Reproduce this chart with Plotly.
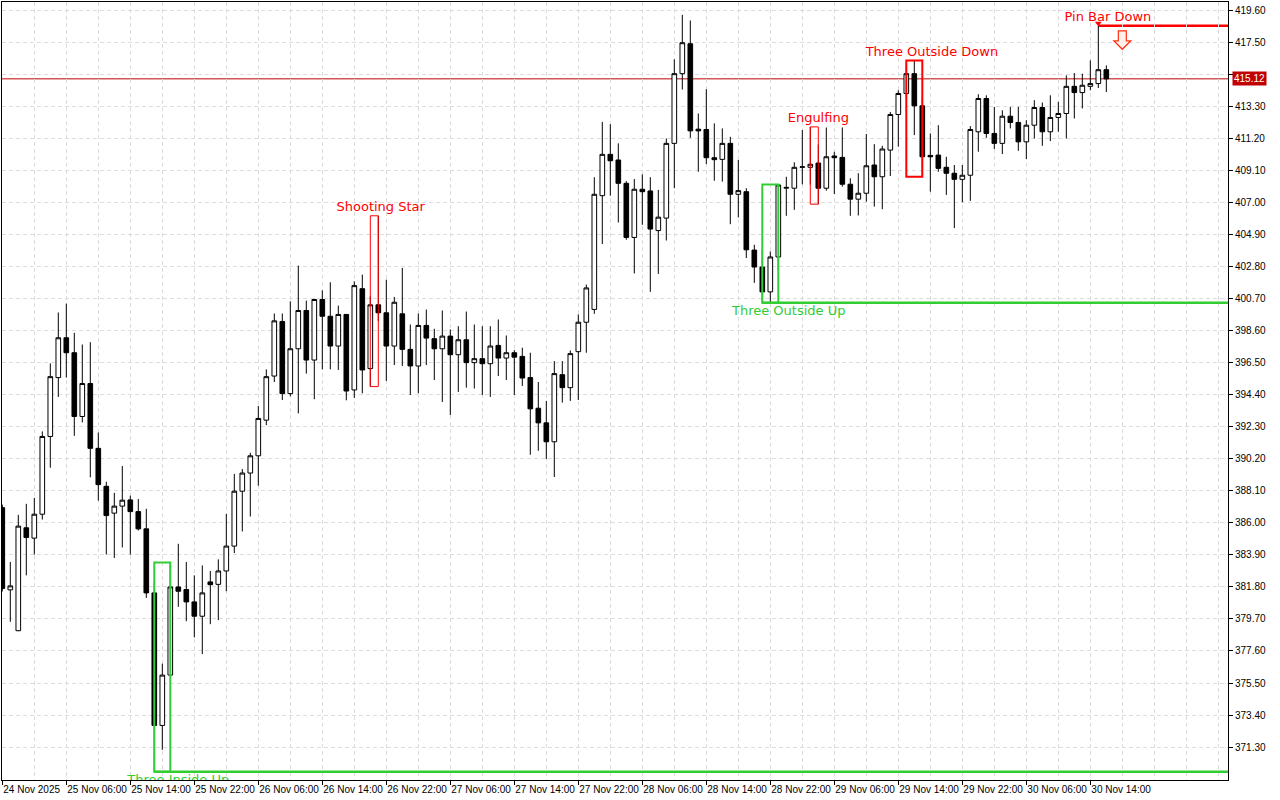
import plotly.graph_objects as go

# ---- data (hourly candles, index 0 = 24 Nov 2025 22:00) ----
opens = [387.0, 381.61, 378.93, 385.68, 385.0, 386.57, 391.67, 395.53, 398.14, 397.16,
         392.98, 395.14, 390.89, 388.4, 386.64, 387.1, 387.51, 386.74, 385.61, 381.41,
         372.72, 376.02, 381.8, 381.63, 380.82, 379.88, 382.13, 381.97, 382.85, 384.48,
         388.08, 389.27, 390.4, 392.74, 395.63, 399.21, 394.48, 397.42, 399.93, 396.68,
         400.65, 399.55, 397.6, 399.67, 394.72, 401.36, 396.12, 400.3, 399.78, 397.6,
         399.71, 397.38, 396.29, 398.95, 398.08, 397.42, 398.25, 397.03, 398.01, 396.51,
         396.77, 396.44, 397.64, 396.81, 397.16, 396.92, 395.53, 393.52, 392.56, 391.32,
         395.72, 394.87, 397.23, 399.16, 400.0, 407.46, 410.17, 409.8, 408.27, 404.72,
         407.88, 407.77, 405.17, 405.99, 410.89, 415.46, 417.42, 411.82, 411.8, 409.95,
         409.84, 410.89, 407.55, 407.72, 403.89, 402.78, 401.15, 403.44, 407.95, 407.95,
         409.32, 409.32, 409.6, 407.95, 410.06, 409.97, 408.21, 407.23, 407.62, 409.47,
         408.7, 410.45, 412.78, 414.16, 415.46, 413.35, 410.1, 410.12, 409.32, 408.93,
         408.53, 408.8, 411.65, 413.83, 411.54, 410.89, 412.67, 412.26, 410.99, 412.08,
         413.24, 411.65, 412.59, 412.85, 414.63, 414.22, 414.63, 414.81, 415.72]
highs = [387.2, 383.44, 386.53, 387.25, 387.64, 392.0, 396.46, 399.8, 400.38, 398.47,
         397.7, 397.85, 391.93, 388.7, 387.97, 389.73, 387.79, 387.57, 386.92, 382.08,
         376.77, 383.4, 384.63, 383.44, 382.56, 383.21, 382.85, 383.61, 386.59, 389.21,
         389.53, 390.6, 393.67, 396.07, 399.73, 399.73, 400.53, 402.87, 400.58, 400.7,
         401.25, 401.78, 400.25, 399.7, 401.84, 402.28, 400.86, 406.14, 401.95, 400.82,
         402.72, 399.01, 399.73, 399.99, 398.73, 399.93, 398.69, 398.9, 399.86, 399.01,
         398.9, 398.9, 399.34, 398.29, 397.33, 397.49, 397.16, 395.24, 394.0, 396.61,
         396.61, 397.31, 399.67, 401.63, 408.67, 412.3, 412.15, 410.89, 408.42, 408.55,
         408.86, 408.67, 407.84, 411.21, 416.4, 419.32, 418.95, 412.85, 414.44, 412.2,
         411.87, 411.32, 409.8, 407.95, 404.24, 403.91, 403.8, 408.2, 408.7, 409.65,
         411.76, 411.97, 410.82, 411.93, 410.34, 411.93, 408.6, 408.93, 411.5, 410.84,
         410.73, 412.95, 414.37, 416.0, 416.33, 413.9, 411.54, 412.08, 410.01, 409.47,
         409.47, 412.02, 414.11, 414.04, 413.28, 413.06, 413.28, 413.28, 412.41, 413.72,
         413.57, 414.04, 413.61, 415.35, 415.5, 415.46, 416.33, 418.6, 416.0]
lows = [381.5, 379.52, 378.9, 382.56, 383.93, 386.22, 389.62, 394.26, 395.53, 391.71,
        392.59, 388.99, 387.46, 383.93, 383.7, 384.39, 383.93, 385.5, 381.08, 369.68,
        371.12, 376.0, 380.5, 379.55, 378.49, 377.4, 379.36, 379.62, 381.52, 384.02,
        385.44, 386.42, 388.44, 392.41, 395.24, 394.06, 394.3, 393.18, 395.79, 394.11,
        396.07, 396.07, 396.03, 394.04, 394.2, 394.5, 394.94, 399.23, 395.31, 396.35,
        396.29, 394.39, 394.5, 396.35, 395.37, 393.93, 393.08, 394.59, 394.87, 394.81,
        394.39, 394.26, 395.63, 395.37, 394.39, 394.98, 390.47, 390.73, 390.19, 389.01,
        393.89, 394.0, 394.06, 397.16, 399.71, 404.29, 407.46, 405.7, 404.57, 402.36,
        405.55, 401.15, 402.33, 404.52, 407.95, 414.42, 411.25, 409.03, 409.53, 408.44,
        408.38, 405.59, 406.03, 403.37, 401.74, 400.43, 400.45, 402.6, 406.14, 406.53,
        408.2, 408.2, 406.9, 407.79, 407.57, 408.05, 406.14, 406.16, 407.07, 406.74,
        406.57, 408.75, 410.67, 413.9, 411.43, 408.7, 407.72, 409.03, 407.51, 405.33,
        407.03, 407.12, 410.34, 411.25, 410.52, 410.19, 411.87, 410.4, 409.86, 411.21,
        410.73, 411.04, 411.65, 411.21, 412.52, 413.18, 414.37, 414.52, 414.26]
closes = [381.7, 381.87, 385.79, 385.04, 386.57, 391.67, 395.59, 398.14, 397.16, 392.98,
          395.14, 390.89, 388.51, 386.48, 387.1, 387.49, 386.74, 385.61, 381.41, 372.72,
          376.02, 381.8, 381.52, 380.82, 379.88, 381.41, 381.95, 382.85, 384.48, 388.08,
          389.27, 390.4, 392.85, 395.59, 399.25, 394.48, 397.42, 399.93, 396.68, 400.65,
          399.55, 397.6, 399.67, 394.65, 401.56, 396.03, 400.3, 399.78, 397.6, 400.47,
          397.38, 396.29, 398.95, 398.12, 397.42, 398.25, 397.03, 398.01, 396.51, 396.77,
          396.44, 397.6, 396.81, 397.16, 396.87, 395.5, 393.48, 392.56, 391.32, 395.79,
          394.87, 397.1, 399.16, 401.41, 407.55, 410.17, 409.75, 408.27, 404.72, 407.88,
          407.72, 405.27, 406.05, 410.89, 415.46, 417.49, 411.71, 411.71, 409.95, 409.82,
          410.89, 407.55, 407.79, 403.91, 402.78, 401.15, 403.44, 408.16, 408.0, 409.32,
          409.35, 409.52, 407.95, 410.01, 409.95, 408.21, 407.23, 407.62, 409.42, 408.7,
          410.52, 412.78, 414.16, 415.46, 413.35, 410.01, 410.01, 409.25, 408.93, 408.53,
          408.8, 411.8, 413.83, 411.54, 410.89, 412.67, 412.26, 410.99, 412.08, 413.24,
          411.65, 412.59, 412.85, 414.63, 414.22, 414.7, 414.81, 415.72, 415.12]

tick_index = [0, 8, 16, 24, 32, 40, 48, 56, 64, 72, 80, 88, 96, 104, 112, 120, 128, 136]
tick_labels = ["24 Nov 2025", "25 Nov 06:00", "25 Nov 14:00", "25 Nov 22:00", "26 Nov 06:00",
               "26 Nov 14:00", "26 Nov 22:00", "27 Nov 06:00", "27 Nov 14:00", "27 Nov 22:00",
               "28 Nov 06:00", "28 Nov 14:00", "28 Nov 22:00", "29 Nov 06:00", "29 Nov 14:00",
               "29 Nov 22:00", "30 Nov 06:00", "30 Nov 14:00"]

# patterns: name, first candle, last candle, bullish?, label position (candle index)
pattern_names = ["Three Inside Up", "Shooting Star", "Engulfing", "Three Outside Up", "Three Outside Down"]
pattern_first = [19, 46, 101, 95, 113]
pattern_last = [21, 47, 102, 97, 115]
pattern_bull = [True, False, False, True, False]
pattern_label_at = [22, 47.3, 102, 98.3, 116.2]
pattern_linew = [2, 1, 1, 2, 2]

pin_bar_name = "Pin Bar Down"
pin_bar_index = 137
pin_bar_label_at = 138.2
pin_bar_arrow_at = 140

last_price = 415.12
price_ticks_start, price_ticks_step, price_ticks_count = 371.30, 2.10, 24

# ---- layout geometry ----
W, H = 1280, 800
ML, MR, MT, MB = 2, 52, 2, 20
plot_h = H - MT - MB
y_lo, y_hi = 369.14, 420.16
x_lo, x_hi = -0.0375, 153.21
px_per_unit = plot_h / (y_hi - y_lo)

RED = "#FF0000"
GREEN = "#32CD32"
GRID = "#DCDCDC"

n = len(opens)
x = list(range(n))

fig = go.Figure()
fig.add_trace(go.Candlestick(
    x=x, open=opens, high=highs, low=lows, close=closes,
    increasing=dict(line=dict(color="black", width=1), fillcolor="white"),
    decreasing=dict(line=dict(color="black", width=1), fillcolor="black"),
    whiskerwidth=0, showlegend=False, hoverinfo="skip"))

shapes = []
lab_x, lab_y, lab_t, lab_c = [], [], [], []
for name, f, l, bull, lx, lw in zip(pattern_names, pattern_first, pattern_last,
                                    pattern_bull, pattern_label_at, pattern_linew):
    top = max(highs[f:l + 1])
    bot = min(lows[f:l + 1])
    col = GREEN if bull else RED
    shapes.append(dict(type="rect", xref="x", yref="y", x0=f, x1=l, y0=bot, y1=top,
                       line=dict(color=col, width=lw), layer="above"))
    if bull:
        shapes.append(dict(type="line", xref="x", yref="y", x0=f, x1=x_hi, y0=bot, y1=bot,
                           line=dict(color=col, width=2.5), layer="above"))
        lab_y.append(bot - 9 / px_per_unit)
    else:
        lab_y.append(top + 8 / px_per_unit)
    lab_x.append(lx)
    lab_t.append(name)
    lab_c.append(col)

# pin bar
pb_high = highs[pin_bar_index]
shapes.append(dict(type="line", xref="x", yref="y", x0=pin_bar_index, x1=x_hi, y0=pb_high, y1=pb_high,
                   line=dict(color=RED, width=2.5), layer="below"))
lab_x.append(pin_bar_label_at)
lab_y.append(pb_high + 8 / px_per_unit)
lab_t.append(pin_bar_name)
lab_c.append(RED)
shapes.append(dict(type="path", xref="x", yref="y", xsizemode="pixel", ysizemode="pixel",
                   xanchor=pin_bar_arrow_at, yanchor=pb_high,
                   path="M -4,-5 L 4,-5 L 4,-15 L 8.5,-15 L 0,-23.5 L -8.5,-15 L -4,-15 Z",
                   line=dict(color="#FF3010", width=1.2), fillcolor="#FFF0EA", layer="above"))

# current price line
shapes.append(dict(type="line", xref="paper", yref="y", x0=0, x1=1, y0=last_price, y1=last_price,
                   line=dict(color="#C00000", width=1), layer="below"))

fig.add_trace(go.Scatter(x=[pin_bar_index], y=[pb_high + 2.5 / px_per_unit], mode="markers",
                         marker=dict(symbol="triangle-down", size=6, color=RED),
                         showlegend=False, hoverinfo="skip"))

fig.add_trace(go.Scatter(x=lab_x, y=lab_y, mode="text", text=lab_t,
                         textfont=dict(family="DejaVu Sans", size=13, color=lab_c),
                         textposition="middle center", cliponaxis=True,
                         showlegend=False, hoverinfo="skip"))

price_ticks = [round(price_ticks_start + i * price_ticks_step, 2) for i in range(price_ticks_count)]
# the label hidden behind the current-price tag is left blank
price_tick_text = ["" if abs(v - last_price) < 0.5 else f"{v:.2f}" for v in price_ticks]

fig.update_layout(
    width=W, height=H,
    margin=dict(l=ML, r=MR, t=MT, b=MB, autoexpand=False),
    paper_bgcolor="white", plot_bgcolor="white",
    showlegend=False,
    boxgap=0.42, boxgroupgap=0,
    shapes=shapes,
    font=dict(family="Liberation Sans", size=10, color="black"),
    annotations=[dict(xref="paper", yref="y", x=1, y=last_price, xanchor="left", yanchor="middle",
                      xshift=4, text="415.12", showarrow=False, bgcolor="#C00000",
                      font=dict(color="white", size=10, family="Liberation Sans"), borderpad=1)],
    xaxis=dict(range=[x_lo, x_hi], rangeslider=dict(visible=False), automargin=False,
               tickmode="array", tickvals=tick_index, ticktext=tick_labels, tickangle=0,
               ticks="outside", ticklen=4, tickcolor="black", ticklabelposition="outside right",
               showline=True, linecolor="black", linewidth=1, mirror=True,
               showgrid=True, gridcolor=GRID, griddash="4px,3px", zeroline=False,
               minor=dict(tickvals=list(range(0, 154, 4)), showgrid=True, gridcolor=GRID,
                          griddash="4px,3px", ticks=""),
               tickfont=dict(family="Liberation Sans", size=10)),
    yaxis=dict(range=[y_lo, y_hi], side="right", tickmode="array", tickvals=price_ticks,
               ticktext=price_tick_text, automargin=False,
               ticks="outside", ticklen=4, tickcolor="black",
               showline=True, linecolor="black", linewidth=1, mirror=True,
               showgrid=True, gridcolor=GRID, griddash="4px,3px", zeroline=False,
               tickfont=dict(family="Liberation Sans", size=10)),
)

fig.write_html("out.html", config={"displayModeBar": False},
               post_script="document.body.style.margin='0';document.body.style.overflow='hidden';")
